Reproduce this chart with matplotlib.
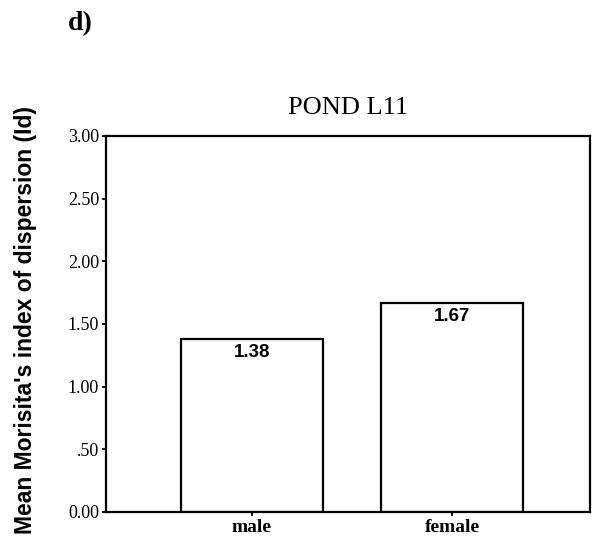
import matplotlib
matplotlib.use("Agg")
import matplotlib.pyplot as plt

categories = ["male", "female"]
values = [1.38, 1.67]
value_labels = ["1.38", "1.67"]
yticks = [0.0, 0.5, 1.0, 1.5, 2.0, 2.5, 3.0]
ytick_labels = ["0.00", ".50", "1.00", "1.50", "2.00", "2.50", "3.00"]

fig = plt.figure(figsize=(5.93, 5.45), dpi=100)
ax = fig.add_axes([106/593, 1-512/545, (590-106)/593, (512-136)/545])

x = list(range(len(categories)))
bars = ax.bar(x, values, width=0.71, color="white", edgecolor="black", linewidth=1.6)

for xi, v, lab in zip(x, values, value_labels):
    ax.annotate(lab, (xi, v), xytext=(0, -3.5), textcoords="offset points",
                ha="center", va="top", fontsize=13.5, fontweight="bold",
                family=["Liberation Sans", "DejaVu Sans"])

ax.set_xlim(-0.73, 1.69)
ax.set_ylim(0, 3.0)
ax.set_yticks(yticks)
ax.set_yticklabels(ytick_labels, family="Liberation Serif", fontsize=13)
ax.set_xticks(x)
ax.set_xticklabels(categories, family="Liberation Serif", fontsize=14, fontweight="bold")
ax.tick_params(axis="both", direction="out", length=3, width=1.3, pad=2, color="black")
for s in ax.spines.values():
    s.set_linewidth(1.6)

ax.set_title("POND L11", family="Liberation Serif", fontsize=19, pad=16)
ax.set_ylabel("Mean Morisita's index of dispersion (Id)",
              family=["Liberation Sans Narrow", "Liberation Sans"],
              fontsize=16.5, fontweight="bold")
ax.yaxis.set_label_coords(-0.142, 0.51)

fig.text(68/593, 1-24/545, "d)", family="Liberation Serif", fontsize=20,
         fontweight="bold", ha="left", va="center")

fig.savefig("out.png", dpi=100)
